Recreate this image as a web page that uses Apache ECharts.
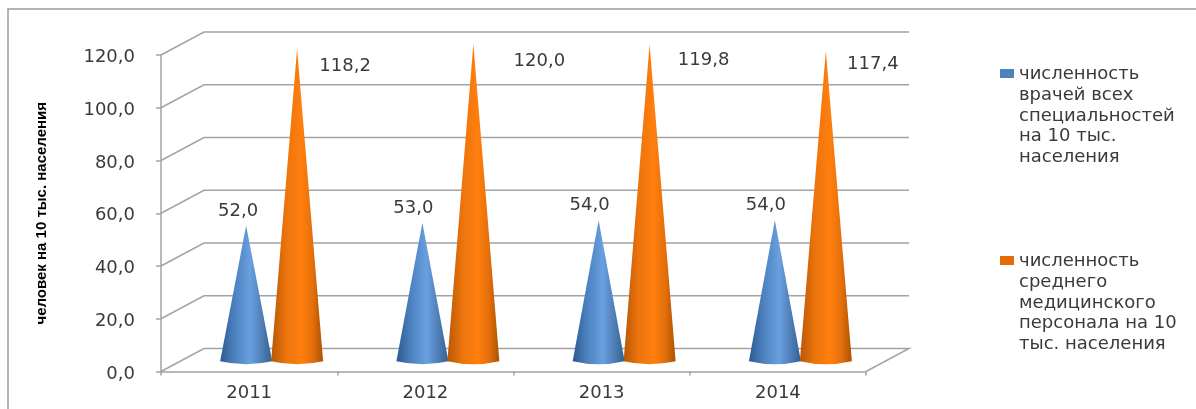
<!DOCTYPE html>
<html><head><meta charset="utf-8">
<style>html,body{margin:0;padding:0;background:#fff;overflow:hidden}#c{width:1196px;height:409px}</style>
<script src="https://cdn.jsdelivr.net/npm/echarts@6/dist/echarts.min.js"></script>
</head><body><div id="c"></div>
<script>
const years = ['2011','2012','2013','2014'];
const doctors = [52.0, 53.0, 54.0, 54.0];
const nurses = [118.2, 120.0, 119.8, 117.4];
const ticks = [0,20,40,60,80,100,120];
const doctorsName = 'численность врачей всех специальностей на 10 тыс. населения';
const nursesName = 'численность среднего медицинского персонала на 10 тыс. населения';
const legendWrapped = {
  [doctorsName]: 'численность\nврачей всех\nспециальностей\nна 10 тыс.\nнаселения',
  [nursesName]: 'численность\nсреднего\nмедицинского\nперсонала на 10\nтыс. населения'
};
const yTitle = 'человек на 10 тыс. населения';
const doctorLabelOffsets = [[-8,0],[-9,-1],[-9,-1],[-9,-1]];
const nurseLabelOffsets = [[48,32],[66,31],[54,30],[47,27]];

const font = '"DejaVu Sans"';
const gridLine = '#a3a3a3';
const txt = '#3a3a3a';
const fmt = v => v.toFixed(1).replace('.', ',');
const pxPerUnit = 2.67;
const conePath = v => { const h = Math.round(v*pxPerUnit);
  return `path://M26 0 L52 ${h-3} Q26 ${h+3} 0 ${h-3} Z`; };
const hGrad = (a,b,c,d,e) => new echarts.graphic.LinearGradient(0,0,1,0,[
  {offset:0,color:a},{offset:0.28,color:b},{offset:0.58,color:c},{offset:0.8,color:d},{offset:1,color:e}]);
const DX = 43, DY = -23;

function cone(name, values, offsets, grad, z){
  return {
    type:'pictorialBar', name, xAxisIndex:1, yAxisIndex:1,
    symbolSize:['100%','100%'], symbolPosition:'start',
    barWidth:52, barGap:'-2%', z,
    itemStyle:{color:grad},
    data: values.map((v,i)=>({value:v,symbol:conePath(v),label:{
      show:true, position:'top', offset:offsets[i],
      formatter:p=>fmt(p.value), color:txt, fontFamily:font, fontSize:18
    }}))
  };
}

const chart = echarts.init(document.getElementById('c'));
chart.setOption({
  animation:false,
  backgroundColor:'#fff',
  graphic:[{type:'rect',shape:{x:8,y:9,width:1400,height:600},silent:true,z:-1,
    style:{fill:'none',stroke:'#9c9c9c',lineWidth:1.5}}],
  grid:[
    {left:161,right:330,top:55,bottom:37.5},
    {left:183.5,right:307.5,top:44,bottom:44.7}
  ],
  xAxis:[
    {type:'category',data:years,gridIndex:0,
     axisLine:{show:true,lineStyle:{color:gridLine,width:1.5}},
     axisTick:{show:true,length:4,lineStyle:{color:gridLine,width:1.5}},
     axisLabel:{color:txt,fontFamily:font,fontSize:18,margin:13}},
    {type:'category',data:years,gridIndex:1,show:false}
  ],
  yAxis:[
    {type:'value',min:0,max:120,interval:20,gridIndex:0,
     axisLine:{show:true,lineStyle:{color:gridLine,width:1.5}},
     axisTick:{show:true,length:5,lineStyle:{color:gridLine,width:1.5}},
     splitLine:{show:false},
     axisLabel:{formatter:fmt,color:txt,fontFamily:font,fontSize:18,margin:26,verticalAlign:'top',lineHeight:5},
     name:yTitle,nameLocation:'middle',nameGap:112,nameRotate:90,
     nameTextStyle:{fontFamily:'"Liberation Sans"',fontWeight:'bold',fontSize:15,color:'#000'}},
    {type:'value',min:0,max:120,interval:20,gridIndex:1,show:false}
  ],
  legend:{
    orient:'vertical',left:1000,top:64,padding:0,itemWidth:14,itemHeight:104,itemGap:83,
    icon:'path://M0 5H14V14H0Z M0 0L0 0Z M0 104L0 104Z',selectedMode:false,
    formatter:n=>legendWrapped[n],
    textStyle:{fontFamily:font,fontSize:18,color:txt,lineHeight:20.7},
    data:[{name:doctorsName,itemStyle:{color:'#4f81bd'}},{name:nursesName,itemStyle:{color:'#e36c09'}}]
  },
  series:[
    {type:'custom',name:'walls',xAxisIndex:0,yAxisIndex:0,silent:true,z:1,
     encode:{x:0,y:1},
     data:ticks.map(t=>[0,t]),
     renderItem(params,api){
       const cs=params.coordSys;
       const t=api.value(1);
       const y=api.coord([0,t])[1];
       const x0=cs.x, x1=cs.x+cs.width;
       const pts=[[x0,y],[x0+DX,y+DY],[x1+DX,y+DY]];
       if(t===0) pts.push([x1,y]);
       return {type:'polyline',shape:{points:pts},silent:true,
         style:{fill:'none',stroke:gridLine,lineWidth:1.5}};
     }},
    cone(doctorsName,doctors,doctorLabelOffsets,hGrad('#2c5a8f','#4d82c0','#6a9fe0','#4f7fb8','#33608f'),3),
    cone(nursesName,nurses,nurseLabelOffsets,hGrad('#b55806','#ec730c','#ff7f0e','#e56f0a','#a85205'),4)
  ]
});
</script></body></html>
